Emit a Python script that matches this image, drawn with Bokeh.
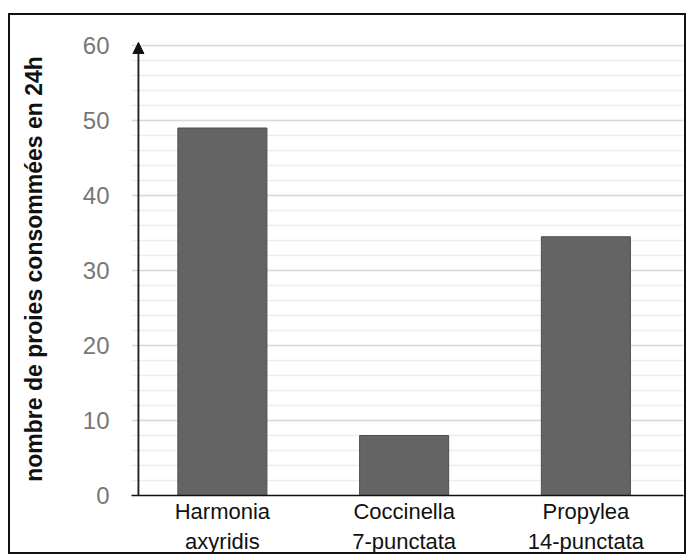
from bokeh.plotting import figure
from bokeh.models import Range1d, FixedTicker, Arrow, NormalHead, LinearAxis
from bokeh.embed import file_html
from bokeh.resources import INLINE

# ---- data ----
species = ["Harmonia\naxyridis", "Coccinella\n7-punctata", "Propylea\n14-punctata"]
prey_24h = [49, 8, 34.5]
y_ticks = [0, 10, 20, 30, 40, 50, 60]
y_minor = list(range(0, 61, 2))
y_title = "nombre de proies consommées en 24h"

xs = list(range(len(species)))
FONT = "Liberation Sans"
AXIS_X = -0.462          # where the visible y axis line sits (data units)

p = figure(width=678, height=541, output_backend="svg", toolbar_location=None,
           x_range=Range1d(-0.5, len(species) - 0.463),
           y_range=Range1d(0, y_ticks[-1] + 0.4),
           min_border_left=121, min_border_right=5, min_border_top=27, min_border_bottom=61)
p.styles = {"border": "2px solid #111111", "margin-top": "13px", "margin-left": "8px"}
p.outline_line_color = None
p.background_fill_color = "white"
p.border_fill_color = "white"

p.vbar(x=xs, top=prey_24h, width=0.49, bottom=0,
       fill_color="#646464", line_color="#4e4e4e", line_width=1)

# x axis
p.xaxis.ticker = FixedTicker(ticks=xs)
p.xaxis.major_label_overrides = {i: s for i, s in zip(xs, species)}
p.xaxis.major_tick_out = 0
p.xaxis.major_tick_in = 0
p.xaxis.major_tick_line_color = None
p.xaxis.minor_tick_line_color = None
p.xaxis.axis_line_color = "#111111"
p.xaxis.axis_line_width = 1.5
p.xaxis.major_label_text_font = FONT
p.xaxis.major_label_text_font_size = "22px"
p.xaxis.major_label_text_color = "#111111"
p.xaxis.major_label_standoff = 3
p.xgrid.grid_line_color = None

# y axis (labels + title), its own line hidden
ya = p.yaxis[0]
ya.ticker = FixedTicker(ticks=y_ticks, minor_ticks=y_minor)
ya.axis_line_color = None
ya.major_tick_in = 0
ya.major_tick_out = 0
ya.major_tick_line_color = None
ya.minor_tick_in = 0
ya.minor_tick_out = 0
ya.minor_tick_line_color = None
ya.major_label_text_font = FONT
ya.major_label_text_font_size = "24px"
ya.major_label_text_color = "#777777"
ya.major_label_standoff = 22
ya.axis_label = y_title
ya.axis_label_text_font = FONT
ya.axis_label_text_font_size = "23px"
ya.axis_label_text_font_style = "bold"
ya.axis_label_text_color = "#111111"
ya.axis_label_standoff = 33

# visible y axis line, slightly inside the frame
yline = LinearAxis(fixed_location=AXIS_X, ticker=FixedTicker(ticks=[]),
                   axis_line_color="#222222", axis_line_width=1.5,
                   major_tick_line_color=None, minor_tick_line_color=None,
                   major_tick_out=0, minor_tick_out=0, major_tick_in=0, minor_tick_in=0,
                   major_label_text_font_size="1px", major_label_standoff=0)
p.add_layout(yline, "left")

p.ygrid.grid_line_color = "#d9d9d9"
p.ygrid.grid_line_width = 1.5
p.ygrid.minor_grid_line_color = "#ededed"
p.ygrid.minor_grid_line_width = 1.5

# arrow head on the y axis
p.add_layout(Arrow(end=NormalHead(size=11, fill_color="#111111", line_color="#111111"),
                   x_start=AXIS_X, y_start=0,
                   x_end=AXIS_X, y_end=p.y_range.end,
                   line_color="#222222", line_width=1.5))

open("out.html", "w").write(file_html(p, INLINE))
